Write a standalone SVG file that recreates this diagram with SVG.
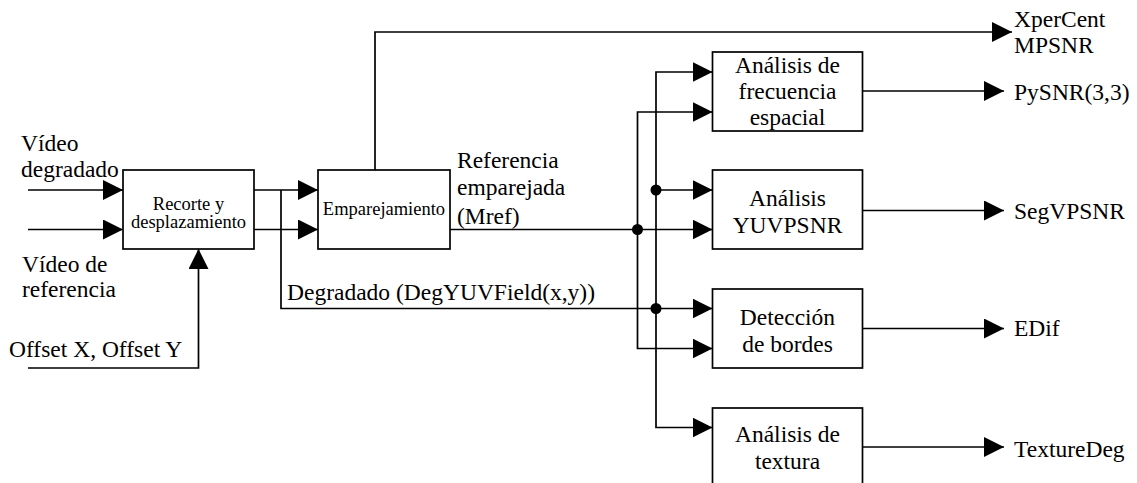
<svg xmlns="http://www.w3.org/2000/svg" width="1137" height="483" viewBox="0 0 1137 483">
  <defs>
    <marker id="arrow" markerUnits="userSpaceOnUse" markerWidth="20" markerHeight="20" refX="20" refY="10" orient="auto">
      <path d="M0,0 L20,10 L0,20 Z" fill="#000"/>
    </marker>
    <style>
      .box { fill: #fff; stroke: #000; stroke-width: 1.7; }
      .wire { fill: none; stroke: #000; stroke-width: 1.7; }
      .arr { marker-end: url(#arrow); }
      .dot { fill: #000; }
      text { font-family: "Liberation Serif", "Times New Roman", serif; fill: #000; }
      .big { font-size: 23.5px; }
      .small { font-size: 18.5px; }
      .mid { text-anchor: middle; }
    </style>
  </defs>
  <rect width="1137" height="483" fill="#fff"/>

  <!-- connectors -->
  <g id="connectors">
    <!-- inputs to crop/shift -->
    <path class="wire arr" d="M28,190 H123"/>
    <path class="wire arr" d="M28,229.5 H123"/>
    <path class="wire arr" d="M28,368 H198.5 V249"/>
    <!-- crop/shift to matching -->
    <path class="wire arr" d="M254,190 H318"/>
    <path class="wire arr" d="M254,229.5 H318"/>
    <!-- degraded branch -->
    <path class="wire arr" d="M281,190 V308.5 H712.5"/>
    <!-- XperCent / MPSNR -->
    <path class="wire arr" d="M375,170 V32 H1012"/>
    <!-- matched reference -->
    <path class="wire arr" d="M450,229.5 H712.5"/>
    <!-- reference bus -->
    <path class="wire arr" d="M637.5,229.5 V112 H712.5"/>
    <path class="wire arr" d="M637.5,229.5 V348.5 H712.5"/>
    <!-- degraded bus -->
    <path class="wire arr" d="M656,308.5 V72 H712.5"/>
    <path class="wire arr" d="M656,190 H712.5"/>
    <path class="wire arr" d="M656,308.5 V427.5 H712.5"/>
    <!-- outputs -->
    <path class="wire arr" d="M862.5,91 H1004"/>
    <path class="wire arr" d="M862.5,210.5 H1004"/>
    <path class="wire arr" d="M862.5,328.5 H1004"/>
    <path class="wire arr" d="M862.5,447 H1004"/>
    <!-- junction dots -->
    <circle class="dot" cx="656" cy="190" r="5.5"/>
    <circle class="dot" cx="637.5" cy="229.5" r="5.5"/>
    <circle class="dot" cx="656" cy="308.5" r="5.5"/>
  </g>

  <!-- free labels -->
  <g id="labels">
    <text class="big" x="21" y="151">Vídeo</text>
    <text class="big" x="21" y="177">degradado</text>
    <text class="big" x="22" y="272">Vídeo de</text>
    <text class="big" x="22" y="297">referencia</text>
    <text class="big" x="9" y="357">Offset X, Offset Y</text>
    <text class="big" x="457" y="168">Referencia</text>
    <text class="big" x="457" y="195">emparejada</text>
    <text class="big" x="457" y="224">(Mref)</text>
    <text class="big" x="287" y="300">Degradado (DegYUVField(x,y))</text>
    <text class="big" x="1014" y="27">XperCent</text>
    <text class="big" x="1014" y="53">MPSNR</text>
    <text class="big" x="1014" y="100">PySNR(3,3)</text>
    <text class="big" x="1014" y="218.5">SegVPSNR</text>
    <text class="big" x="1014" y="336">EDif</text>
    <text class="big" x="1014" y="456.5">TextureDeg</text>
  </g>

  <g id="recorte">
    <rect class="box" x="123" y="170" width="131" height="79"/>
    <text class="small mid" x="188.5" y="209.5">Recorte y</text>
    <text class="small mid" x="188.5" y="228">desplazamiento</text>
  </g>

  <g id="emparejamiento">
    <rect class="box" x="318" y="170" width="132" height="79"/>
    <text class="small mid" x="384" y="215">Emparejamiento</text>
  </g>

  <g id="frecuencia">
    <rect class="box" x="712.5" y="52" width="150" height="79"/>
    <text class="big mid" x="787.5" y="72.5">Análisis de</text>
    <text class="big mid" x="787.5" y="98.5">frecuencia</text>
    <text class="big mid" x="787.5" y="124.5">espacial</text>
  </g>

  <g id="yuvpsnr">
    <rect class="box" x="712.5" y="170" width="150" height="79"/>
    <text class="big mid" x="787.5" y="206">Análisis</text>
    <text class="big mid" x="787.5" y="233">YUVPSNR</text>
  </g>

  <g id="bordes">
    <rect class="box" x="712.5" y="289" width="150" height="79"/>
    <text class="big mid" x="787.5" y="325">Detección</text>
    <text class="big mid" x="787.5" y="352">de bordes</text>
  </g>

  <g id="textura">
    <rect class="box" x="712.5" y="408" width="150" height="79"/>
    <text class="big mid" x="787.5" y="442">Análisis de</text>
    <text class="big mid" x="787.5" y="468.5">textura</text>
  </g>
</svg>
